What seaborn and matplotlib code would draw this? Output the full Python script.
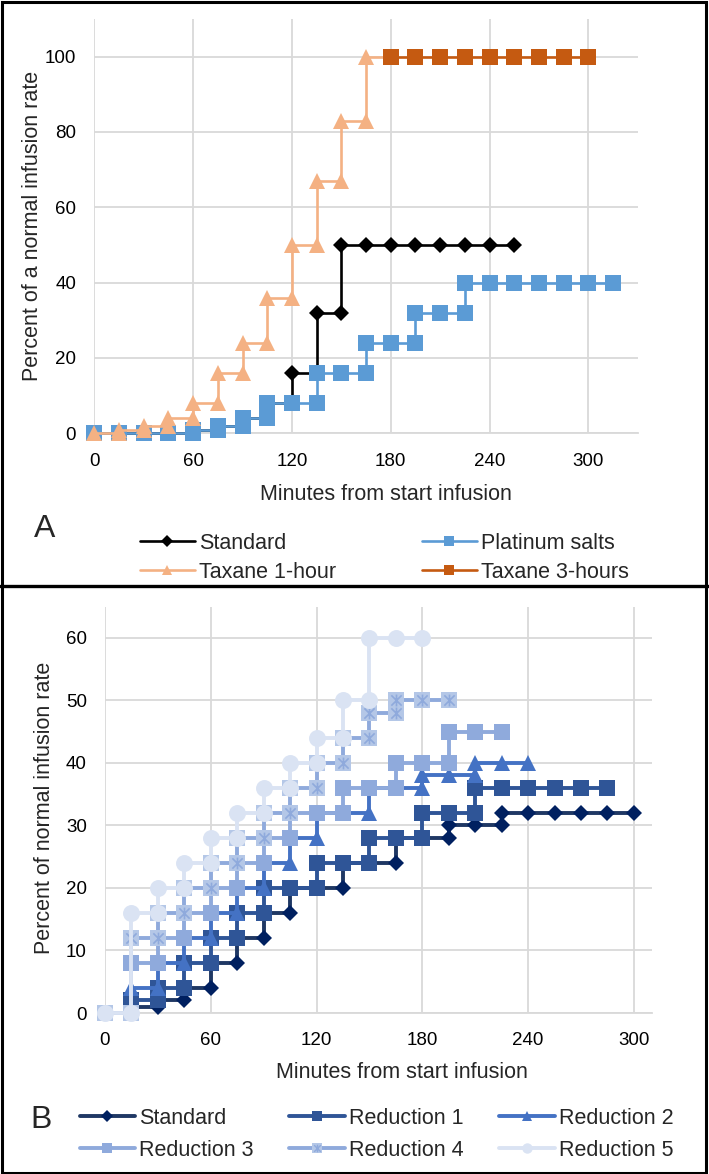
import matplotlib
matplotlib.use("Agg")
import matplotlib.pyplot as plt
import seaborn as sns
from matplotlib.lines import Line2D
from matplotlib.path import Path
from matplotlib.patches import Rectangle

# ---------------- data ----------------
# Each series: start times (minutes) and the rate (% of normal) that begins at that time
a_std_t = [0, 15, 30, 45, 60, 75, 90, 105, 120, 135, 150, 165, 180, 195, 210, 225, 240, 255]
a_std_r = [0, 0, 0, 0, 1, 2, 4, 8, 16, 32, 50, 50, 50, 50, 50, 50, 50, 50]
a_plat_t = [0, 15, 30, 45, 60, 75, 90, 105, 120, 135, 150, 165, 180, 195, 210, 225, 240, 255, 270, 285, 300, 315]
a_plat_r = [0, 0, 0, 0, 1, 2, 4, 8, 8, 16, 16, 24, 24, 32, 32, 40, 40, 40, 40, 40, 40, 40]
a_tax1_t = [0, 15, 30, 45, 60, 75, 90, 105, 120, 135, 150, 165, 180]
a_tax1_r = [0, 1, 2, 4, 8, 16, 24, 36, 50, 67, 83, 100, 100]
a_tax3_t = [180, 195, 210, 225, 240, 255, 270, 285, 300]
a_tax3_r = [100, 100, 100, 100, 100, 100, 100, 100, 100]

b_std_t = [0, 15, 30, 45, 60, 75, 90, 105, 120, 135, 150, 165, 180, 195, 210, 225, 240, 255, 270, 285, 300]
b_std_r = [0, 1, 2, 4, 8, 12, 16, 20, 20, 24, 24, 28, 28, 30, 30, 32, 32, 32, 32, 32, 32]
b_r1_t = [0, 15, 30, 45, 60, 75, 90, 105, 120, 135, 150, 165, 180, 195, 210, 225, 240, 255, 270, 285]
b_r1_r = [0, 2, 4, 8, 12, 16, 20, 20, 24, 24, 28, 28, 32, 32, 36, 36, 36, 36, 36, 36]
b_r2_t = [0, 15, 30, 45, 60, 75, 90, 105, 120, 135, 150, 165, 180, 195, 210, 225, 240]
b_r2_r = [0, 4, 8, 12, 16, 20, 24, 28, 32, 32, 36, 36, 38, 38, 40, 40, 40]
b_r3_t = [0, 15, 30, 45, 60, 75, 90, 105, 120, 135, 150, 165, 180, 195, 210, 225]
b_r3_r = [0, 8, 12, 16, 20, 24, 28, 32, 32, 36, 36, 40, 40, 45, 45, 45]
b_r4_t = [0, 15, 30, 45, 60, 75, 90, 105, 120, 135, 150, 165, 180, 195]
b_r4_r = [0, 12, 16, 20, 24, 28, 32, 36, 40, 44, 48, 50, 50, 50]
b_r5_t = [0, 15, 30, 45, 60, 75, 90, 105, 120, 135, 150, 165, 180]
b_r5_r = [0, 16, 20, 24, 28, 32, 36, 40, 44, 50, 60, 60, 60]

a_labels = ["Standard", "Platinum salts", "Taxane 1-hour", "Taxane 3-hours"]
b_labels = ["Standard", "Reduction 1", "Reduction 2", "Reduction 3", "Reduction 4", "Reduction 5"]
a_xticks = [0, 60, 120, 180, 240, 300]
a_yticks = [0, 20, 40, 60, 80, 100]
b_xticks = [0, 60, 120, 180, 240, 300]
b_yticks = [0, 10, 20, 30, 40, 50, 60]


def step_points(times, rates):
    xs, ys = [], []
    for i, (t, r) in enumerate(zip(times, rates)):
        if i > 0 and r != rates[i - 1]:
            xs.append(t)
            ys.append(rates[i - 1])
        xs.append(t)
        ys.append(r)
    return xs, ys


def row_major(items, ncol):
    # matplotlib fills legend columns first; reorder so entries read across rows
    nrow = -(-len(items) // ncol)
    return [items[r * ncol + c] for c in range(ncol) for r in range(nrow) if r * ncol + c < len(items)]


# ---------------- style ----------------
sns.set_style("white")
plt.rcParams["font.family"] = ["Liberation Sans", "DejaVu Sans"]

W, H = 709, 1174
fig = plt.figure(figsize=(W / 100, H / 100), dpi=100)


def fx(px):
    return px / W


def fy(py):
    return 1 - py / H


GRID = "#d9d9d9"
TICK_FS = 13.5
LAB_FS = 15.5

# asterisk marker (Excel "star")
ast = Path([(-1, -1), (1, 1), (-1, 1), (1, -1), (0, -1.15), (0, 1.15)],
           [Path.MOVETO, Path.LINETO, Path.MOVETO, Path.LINETO, Path.MOVETO, Path.LINETO])


def style_axes(ax, xlim, ylim, xticks, yticks):
    ax.set_xlim(*xlim)
    ax.set_ylim(*ylim)
    ax.set_xticks(xticks)
    ax.set_yticks(yticks)
    ax.grid(True, color=GRID, lw=1.3)
    ax.set_axisbelow(True)
    for s in ["top", "right", "left"]:
        ax.spines[s].set_visible(False)
    ax.spines["bottom"].set_color(GRID)
    ax.spines["bottom"].set_linewidth(1.3)
    ax.tick_params(axis="both", length=0, labelsize=TICK_FS, colors="black")
    ax.tick_params(axis="y", pad=13)
    ax.tick_params(axis="x", pad=14)


# ---------------- Panel A ----------------
axA = fig.add_axes([fx(94.3), fy(433.3), fx(637.8) - fx(94.3), fy(19) - fy(433.3)])
a_series = [
    (a_std_t, a_std_r, "black", "D", 8.3),
    (a_plat_t, a_plat_r, "#5b9bd5", "s", 12.0),
    (a_tax1_t, a_tax1_r, "#f4b183", "^", 11.5),
    (a_tax3_t, a_tax3_r, "#c55a11", "s", 12.0),
]
for i, (t, r, c, m, ms) in enumerate(a_series):
    xs, ys = step_points(t, r)
    sns.lineplot(x=xs, y=ys, ax=axA, estimator=None, sort=False, color=c, lw=1.9,
                 marker=m, markersize=ms, markeredgewidth=0, markeredgecolor=c,
                 zorder=3 + i, clip_on=False)
style_axes(axA, (0, 330), (0, 110), a_xticks, a_yticks)
axA.set_xlabel("")
axA.set_ylabel("")
fig.text(fx(386), fy(494), "Minutes from start infusion", ha="center", va="center", fontsize=LAB_FS)
fig.text(fx(33), fy(226), "Percent of a normal infusion rate", ha="center", va="center",
         rotation=90, fontsize=LAB_FS)
fig.text(fx(45), fy(529), "A", ha="center", va="center", fontsize=23)

a_handles = [
    Line2D([], [], color="black", lw=1.9, marker="D", ms=6, mew=0),
    Line2D([], [], color="#5b9bd5", lw=1.9, marker="s", ms=7.5, mew=0),
    Line2D([], [], color="#f4b183", lw=1.9, marker="^", ms=7.5, mew=0),
    Line2D([], [], color="#c55a11", lw=1.9, marker="s", ms=7.5, mew=0),
]
fig.legend(row_major(a_handles, 2), row_major(a_labels, 2), ncol=2, loc="upper left",
           bbox_to_anchor=(fx(140), fy(533)),
           frameon=False, fontsize=LAB_FS, handlelength=2.55, handletextpad=0.18,
           columnspacing=4.0, labelspacing=0.35, borderpad=0, borderaxespad=0)

# ---------------- Panel B ----------------
axB = fig.add_axes([fx(105), fy(1013), fx(651.5) - fx(105), fy(606.7) - fy(1013)])
b_series = [
    (b_std_t, b_std_r, "#1f3864", "D", 8.6, "#002060"),
    (b_r1_t, b_r1_r, "#2f5597", "s", 12.2, "#2f5597"),
    (b_r2_t, b_r2_r, "#4472c4", "^", 12.0, "#4472c4"),
    (b_r3_t, b_r3_r, "#8faadc", "s", 12.2, "#8faadc"),
    (b_r4_t, b_r4_r, "#8faadc", "s", 12.2, "#b4c7e7"),
    (b_r5_t, b_r5_r, "#dae3f3", "o", 12.2, "#dae3f3"),
]
for i, (t, r, c, m, ms, fc) in enumerate(b_series):
    xs, ys = step_points(t, r)
    sns.lineplot(x=xs, y=ys, ax=axB, estimator=None, sort=False, color=c, lw=2.8,
                 marker=m, markersize=ms, markeredgewidth=0, markerfacecolor=fc,
                 markeredgecolor=fc, zorder=3 + i, clip_on=False)
    if i == 4:
        sns.lineplot(x=xs, y=ys, ax=axB, estimator=None, sort=False, color=c, lw=0,
                     marker=ast, markersize=8.5, markeredgewidth=1.2, markerfacecolor="none",
                     markeredgecolor="#8faadc", zorder=3 + i + 0.5, clip_on=False)
style_axes(axB, (0, 310), (0, 65), b_xticks, b_yticks)
axB.set_xlabel("")
axB.set_ylabel("")
fig.text(fx(402), fy(1073), "Minutes from start infusion", ha="center", va="center", fontsize=LAB_FS)
fig.text(fx(45), fy(808), "Percent of normal infusion rate", ha="center", va="center",
         rotation=90, fontsize=LAB_FS)
fig.text(fx(41), fy(1120), "B", ha="center", va="center", fontsize=23)

b_handles = [
    Line2D([], [], color="#1f3864", lw=2.8, marker="D", ms=6, mew=0, mfc="#002060"),
    Line2D([], [], color="#2f5597", lw=2.8, marker="s", ms=7.5, mew=0),
    Line2D([], [], color="#4472c4", lw=2.8, marker="^", ms=7.5, mew=0),
    Line2D([], [], color="#8faadc", lw=2.8, marker="s", ms=7.5, mew=0),
    (Line2D([], [], color="#8faadc", lw=2.8, marker="s", ms=7.5, mew=0, mfc="#b4c7e7"),
     Line2D([], [], color="#8faadc", lw=0, marker=ast, ms=5.5, mew=1.0, mfc="none", mec="#8faadc")),
    Line2D([], [], color="#dae3f3", lw=2.8, marker="o", ms=7.5, mew=0),
]
fig.legend(row_major(b_handles, 3), row_major(b_labels, 3), ncol=3, loc="upper left",
           bbox_to_anchor=(fx(79.5), fy(1108)),
           frameon=False, fontsize=LAB_FS, handlelength=2.6, handletextpad=0.18,
           columnspacing=1.65, labelspacing=0.5, borderpad=0, borderaxespad=0)

# ---------------- frame ----------------
fig.add_artist(Rectangle((fx(1.5), fy(1172.5)), fx(706) - fx(1.5), fy(1.5) - fy(1172.5),
                         transform=fig.transFigure, fill=False, lw=2.2, edgecolor="black"))
fig.add_artist(Line2D([0, 1], [fy(586), fy(586)], transform=fig.transFigure, color="black", lw=2.4))

fig.savefig("out.png", dpi=100)
